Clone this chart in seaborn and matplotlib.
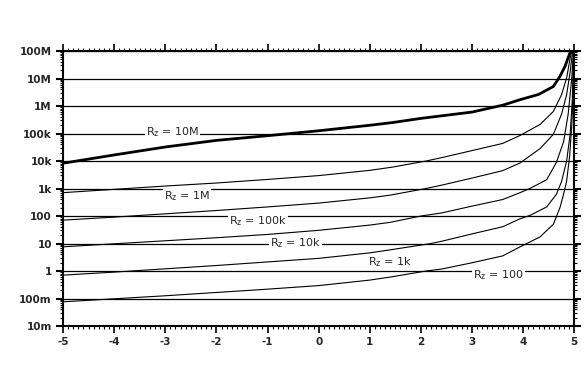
import numpy as np
import matplotlib
matplotlib.use("Agg")
import matplotlib.pyplot as plt
from matplotlib.ticker import LogLocator, NullFormatter, MultipleLocator
import seaborn as sns

# values, log10(R) per curve
x_10M = [-5, -4, -3, -2, -1, 0, 1, 1.45, 2, 3, 3.6, 3.94, 4.3, 4.59, 4.72, 4.82, 4.92, 4.96]
log_10M = [3.92, 4.22, 4.51, 4.75, 4.92, 5.10, 5.30, 5.40, 5.55, 5.78, 6.03, 6.23, 6.42, 6.71, 7.08, 7.45, 7.96, 8.2]

x_1M = [-5, -4, -3, -2, -1, 0, 1, 1.45, 2.1, 2.4, 3, 3.6, 3.94, 4.33, 4.59, 4.75, 4.85, 4.92, 4.97]
log_1M = [2.85, 2.97, 3.09, 3.20, 3.33, 3.47, 3.66, 3.78, 4.0, 4.12, 4.38, 4.64, 4.93, 5.33, 5.80, 6.41, 7.02, 7.75, 8.2]

x_100k = [-5, -4, -3, -2, -1, 0, 1, 1.4, 2.1, 2.4, 3, 3.6, 3.94, 4.33, 4.59, 4.75, 4.85, 4.92, 4.98]
log_100k = [1.85, 1.96, 2.08, 2.20, 2.33, 2.47, 2.66, 2.76, 3.0, 3.12, 3.38, 3.65, 3.93, 4.45, 4.97, 5.70, 6.41, 7.26, 8.2]

x_10k = [-5, -4, -3, -2, -1, 0, 1, 1.4, 2.0, 2.4, 3, 3.6, 3.94, 4.13, 4.46, 4.65, 4.79, 4.88, 4.95, 4.99]
log_10k = [0.88, 0.99, 1.10, 1.21, 1.33, 1.48, 1.67, 1.77, 2.0, 2.11, 2.36, 2.60, 2.85, 3.0, 3.32, 3.95, 4.7, 5.7, 7.0, 8.2]

x_1k = [-5, -4, -3, -2, -1, 0, 1, 1.4, 2.2, 2.4, 3, 3.6, 3.94, 4.13, 4.46, 4.65, 4.75, 4.85, 4.92, 4.96, 4.99]
log_1k = [-0.15, -0.04, 0.08, 0.20, 0.33, 0.46, 0.66, 0.77, 1.0, 1.08, 1.35, 1.61, 1.90, 2.02, 2.33, 2.79, 3.25, 4.0, 5.0, 6.2, 8.2]

x_100 = [-5, -4, -3, -2, -1, 0, 1, 1.4, 2.1, 2.4, 3, 3.6, 3.94, 4.33, 4.59, 4.72, 4.79, 4.85, 4.91, 4.95, 4.98, 4.995]
log_100 = [-1.12, -1.01, -0.90, -0.78, -0.66, -0.53, -0.33, -0.22, 0.0, 0.07, 0.30, 0.55, 0.88, 1.24, 1.70, 2.31, 2.79, 3.27, 4.2, 5.3, 6.6, 8.2]

curve_names = ["10M", "1M", "100k", "10k", "1k", "100"]
y_ticks = [1e-2, 1e-1, 1, 1e1, 1e2, 1e3, 1e4, 1e5, 1e6, 1e7, 1e8]
y_tick_labels = ["10m", "100m", "1", "10", "100", "1k", "10k", "100k", "1M", "10M", "100M"]
x_ticks = [-5, -4, -3, -2, -1, 0, 1, 2, 3, 4, 5]

sns.set_style("ticks")
plt.rcParams["font.family"] = ["DejaVu Sans"]
plt.rcParams["mathtext.fontset"] = "dejavusans"

fig = plt.figure(figsize=(5.84, 3.74), dpi=100)
ax = fig.add_axes([0.1079, 0.1283, 0.8755, 0.7353])

curves = [(x_10M, log_10M), (x_1M, log_1M), (x_100k, log_100k),
          (x_10k, log_10k), (x_1k, log_1k), (x_100, log_100)]
for i, (xs, ls) in enumerate(curves):
    r = 10 ** np.array(ls)
    lw = 2.0 if i == 0 else 0.8
    sns.lineplot(x=xs, y=r, ax=ax, color="black", lw=lw, sort=False, estimator=None)

ax.set_yscale("log")
ax.set_xlim(-5, 5)
ax.set_ylim(1e-2, 1e8)

ax.yaxis.grid(True, which="major", color="black", lw=0.9)
ax.xaxis.grid(False)

ax.set_yticks(y_ticks)
ax.set_yticklabels(y_tick_labels, fontweight="bold", fontsize=7.5)
ax.yaxis.set_minor_locator(LogLocator(base=10, subs=np.arange(2, 10), numticks=20))
ax.yaxis.set_minor_formatter(NullFormatter())
ax.set_xticks(x_ticks)
ax.set_xticklabels([str(t) for t in x_ticks], fontweight="bold", fontsize=7.5)
ax.xaxis.set_minor_locator(MultipleLocator(0.1))

ax.tick_params(which="both", direction="out", top=True, right=True, color="black")
ax.tick_params(which="major", length=5, width=1.2, pad=3)
ax.tick_params(which="minor", length=2.5, width=0.8)
ax.tick_params(axis="y", which="major", width=1.5)
for s in ax.spines.values():
    s.set_linewidth(1.5)
    s.set_color("black")

# curve labels
box = dict(facecolor="white", edgecolor="none", pad=0.6)
lab = {"fontsize": 8, "ha": "center", "va": "center", "bbox": box}
ax.text(-2.85, 1.1e5, r"R$_{\rm z}$ = 10M", **lab)
ax.text(-2.57, 5.3e2, r"R$_{\rm z}$ = 1M", **lab)
ax.text(-1.18, 6.8e1, r"R$_{\rm z}$ = 100k", **lab)
ax.text(-0.46, 1.0e1, r"R$_{\rm z}$ = 10k", **lab)
ax.text(1.40, 2.1, r"R$_{\rm z}$ = 1k", **lab)
ax.text(3.52, 0.7, r"R$_{\rm z}$ = 100", **lab)

ax.set_xlabel("")
ax.set_ylabel("")
fig.savefig("out.png", dpi=100)
